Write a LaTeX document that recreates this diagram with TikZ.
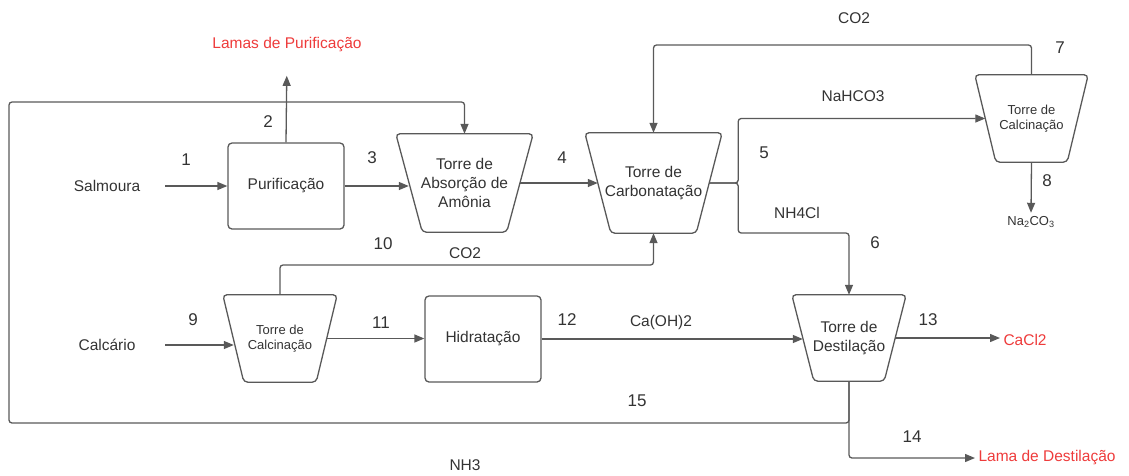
\documentclass[tikz,border=0pt]{standalone}
\usepackage{fontspec}
\setmainfont{Liberation Sans}
\usepackage{tikz}
\usetikzlibrary{arrows.meta,calc}

\definecolor{linha}{HTML}{595959}
\definecolor{texto}{HTML}{333333}
\definecolor{saida}{HTML}{EE3B3B}

\tikzset{
  fluxo/.style={draw=linha, line width=1.3pt, rounded corners=3pt, -{Triangle[length=10pt,width=8pt]}},
  contorno/.style={draw=linha, line width=1.3pt, rounded corners=4pt},
  caixa/.style={contorno, minimum width=116pt, minimum height=86pt, text=texto, font=\fontsize{15.5}{19}\selectfont},
  torre/.style={inner sep=0pt, align=center, text=texto, font=\fontsize{15.5}{19}\selectfont},
  torrep/.style={torre, font=\fontsize{13}{15}\selectfont},
  rotulo/.style={text=texto, font=\fontsize{15.5}{19}\selectfont},
  numero/.style={text=texto, font=\fontsize{17}{20}\selectfont},
  produto/.style={text=saida, font=\fontsize{15.5}{19}\selectfont},
}

\begin{document}
\begin{tikzpicture}[x=1pt, y=-1pt]
    \useasboundingbox (0,0) rectangle (1129,475);
    % equipamentos
    \node[caixa] (purif) at (286,186) {Purificação};
    \node[caixa] (hidrat) at (483,339) {Hidratação};
    \node[torre, minimum width=137pt, minimum height=98pt] (absorcao) at (464.5,183) {Torre de\\Absorção de\\Amônia};
    \node[torre, minimum width=137pt, minimum height=100pt] (carbon) at (653.5,183) {Torre de\\Carbonatação};
    \node[torre, minimum width=114pt, minimum height=86pt] (destil) at (849,338) {Torre de\\Destilação};
    \node[torrep, minimum width=113pt, minimum height=87pt] (calcA) at (1031.5,118.5) {Torre de\\Calcinação};
    \node[torrep, minimum width=114pt, minimum height=87pt] (calcB) at (280,338.5) {Torre de\\Calcinação};
    % contorno das torres (trapezio invertido)
    \foreach \t/\d in {absorcao/26.5, carbon/26, destil/22, calcA/21, calcB/21} {
        \draw[contorno] (\t.north west) -- (\t.north east) -- ([xshift=-\d pt]\t.south east)
            -- ([xshift=\d pt]\t.south west) -- cycle;
    }
    % entradas e saidas
    \node[rotulo, minimum width=116pt] (salmoura) at (107,186) {Salmoura};
    \node[rotulo, minimum width=116pt] (calcario) at (107,345) {Calcário};
    \node[produto] (lamasP) at (287,45) {Lamas de Purificação};
    \node[produto, anchor=west] (cacl) at (1000,340) {CaCl2};
    \node[produto, anchor=west] (lamaD) at (975,458) {Lama de Destilação};
    \node[rotulo, font=\fontsize{13}{15}\selectfont] (naco) at (1031,222) {Na\textsubscript{2}CO\textsubscript{3}};
    % correntes
    \draw[fluxo] (salmoura.east) -- (purif.west);
    \draw[fluxo, shorten >=20pt] (purif.north) -- (lamasP.south);
    \draw[fluxo] (purif.east) -- ($(purif.east -| absorcao.west)+(13,0)$);
    \draw[fluxo] ($(absorcao.east)+(-13,0)$) -- ($(carbon.west)+(13,0)$);
    \draw[fluxo] ($(carbon.east)+(-13,0)$) -- ++(29,0) |- ($(calcA.west)+(10.5,0)$);
    \draw[fluxo] ($(carbon.east)+(-13,0)$) -- ++(29,0) |- (destil.north |- 0,233) -- (destil.north);
    \draw[fluxo] (calcA.north) |- (carbon.north |- 0,45) -- (carbon.north);
    \draw[fluxo] (calcA.south) -- (naco.north);
    \draw[fluxo] (calcario.east) -- ($(calcario.east -| calcB.west)+(11,0)$);
    \draw[fluxo] (calcB.north) |- (carbon.south |- 0,265) -- (carbon.south);
    \draw[fluxo] ($(calcB.east)+(-10.5,0)$) -- (calcB.east -| hidrat.west);
    \draw[fluxo] (hidrat.east) -- ($(hidrat.east -| destil.west)+(11,0)$);
    \draw[fluxo] ($(destil.east)+(-11,0)$) -- (destil.east -| cacl.west);
    \draw[fluxo] (destil.south) |- (lamaD.west);
    % reciclo de NH3
    \coordinate (canto) at (9,102);
    \draw[fluxo] (destil.south) -- (destil.south |- 0,423) -| (canto) -| (absorcao.north);
    % nomes das correntes
    \node[rotulo] (co2a) at (854,18) {CO2};
    \node[rotulo] (nahco) at (853,96) {NaHCO3};
    \node[rotulo] (nhcl) at (797,213) {NH4Cl};
    \node[rotulo] (co2b) at (465,253) {CO2};
    \node[rotulo] (caoh) at (661,322) {Ca(OH)2};
    \node[rotulo] (nh3) at (465,465) {NH3};
    \foreach \n/\x/\y in {1/186/160, 2/268/122, 3/372/158, 4/562/158, 5/764/153, 6/875/243, 7/1060/48, 8/1047/181,
        9/193/320, 10/383/244, 11/381/323, 12/567/320, 13/928/320, 14/912/437, 15/637/401} {
        \node[numero] (n\n) at (\x,\y) {\n};
    }
\end{tikzpicture}
\end{document}
